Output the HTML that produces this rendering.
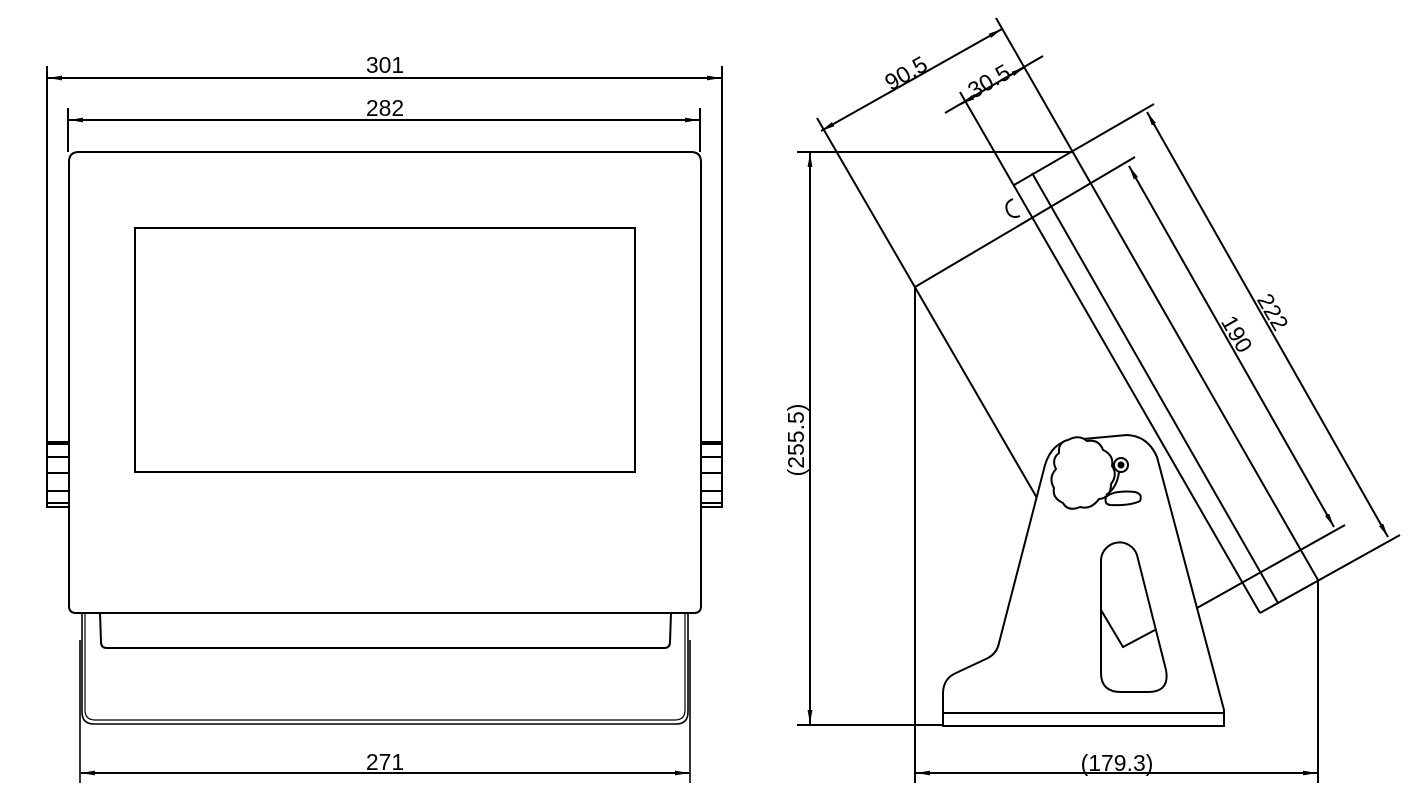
<!DOCTYPE html>
<html><head><meta charset="utf-8"><style>
html,body{margin:0;padding:0;background:#fff;}
svg{display:block;}
text{font-family:"Liberation Sans",Arial,sans-serif;font-size:23px;fill:#000;}
</style></head><body>
<svg width="1423" height="810" viewBox="0 0 1423 810" xmlns="http://www.w3.org/2000/svg">
<defs>
<marker id="a" viewBox="0 0 14 6" refX="14" refY="3" markerWidth="14" markerHeight="6" orient="auto-start-reverse" markerUnits="userSpaceOnUse"><path d="M0,0.6 L14,3 L0,5.4 z" fill="#000"/></marker>
</defs>
<g fill="none" stroke="#000" stroke-width="2">
<line x1="47" y1="66" x2="47" y2="508"/>
<line x1="722" y1="66" x2="722" y2="508"/>
<line x1="48" y1="78" x2="721" y2="78" marker-start="url(#a)" marker-end="url(#a)"/>
<line x1="68" y1="108" x2="68" y2="152"/>
<line x1="700" y1="108" x2="700" y2="152"/>
<line x1="69" y1="120" x2="699" y2="120" marker-start="url(#a)" marker-end="url(#a)"/>
<path d="M69,162 Q69,152 79,152 L691,152 Q701,152 701,162 L701,606 Q701,613 694,613 L76,613 Q69,613 69,606 Z"/>
<rect x="135" y="228" width="500" height="244"/>
<path d="M47,442 L69,442 M47,444 L69,444 M47,457 L69,457 M47,473 L69,473 M47,491 L69,491 M47,503 L69,503 M47,507 L69,507"/>
<path d="M701,442 L722,442 M701,444 L722,444 M701,457 L722,457 M701,473 L722,473 M701,491 L722,491 M701,503 L722,503 M701,507 L722,507"/>
<path d="M100,613 L101,642 Q101,648 107,648 L664,648 Q670,648 670,642 L671,613"/>
<path d="M82,613 L82,712 Q82,724 94,724 L676,724 Q688,724 688,712 L688,613" stroke-width="1.6"/>
<path d="M85,613 L85,710 Q85,720 95,720 L675,720 Q685,720 685,710 L685,613" stroke-width="1.2"/>
<line x1="80" y1="640" x2="80" y2="783" stroke-width="1.6"/>
<line x1="690" y1="640" x2="690" y2="783" stroke-width="1.6"/>
<line x1="81" y1="773" x2="689" y2="773" marker-start="url(#a)" marker-end="url(#a)"/>

<line x1="797" y1="152" x2="1072" y2="152"/>
<line x1="797" y1="725" x2="943" y2="725"/>
<line x1="810" y1="153" x2="810" y2="724" marker-start="url(#a)" marker-end="url(#a)"/>
<line x1="915" y1="287" x2="915" y2="783"/>
<line x1="1318" y1="580" x2="1318" y2="783"/>
<line x1="916" y1="773" x2="1317" y2="773" marker-start="url(#a)" marker-end="url(#a)"/>
<line x1="817" y1="118" x2="1037" y2="498"/>
<line x1="960" y1="92" x2="1260" y2="613"/>
<line x1="1032" y1="173" x2="1278" y2="603"/>
<line x1="996" y1="18" x2="1318" y2="580"/>
<line x1="915" y1="287" x2="1135" y2="157"/>
<line x1="1014" y1="185" x2="1154" y2="104"/>
<line x1="1260" y1="613" x2="1400" y2="535"/>
<line x1="1197" y1="608" x2="1345" y2="525"/>
<line x1="1129" y1="166" x2="1334" y2="527" marker-start="url(#a)" marker-end="url(#a)"/>
<line x1="1147" y1="112" x2="1388" y2="537" marker-start="url(#a)" marker-end="url(#a)"/>
<line x1="821" y1="131" x2="1002" y2="29" marker-start="url(#a)" marker-end="url(#a)"/>
<line x1="945" y1="113" x2="1043" y2="56"/>
<line x1="977" y1="95" x2="961" y2="104" marker-end="url(#a)"/>
<line x1="1009" y1="76" x2="1025" y2="67" marker-end="url(#a)"/>
<path d="M1013,199 Q1003,203 1008,213 Q1012,219 1020,216"/>
<path d="M943,726 L943,692 Q944,678 956,673 L988,658 Q997,653 999,643 L1045,465 Q1052,442 1072,440 L1127,435 Q1148,436 1157,457 L1224,710 L1224,726 Z" fill="#fff"/>
<line x1="943" y1="713" x2="1224" y2="713"/>
<path d="M1068,440 Q1079,434 1087,441 Q1099,439 1103,450 Q1114,455 1112,466 Q1118,475 1111,484 Q1111,498 1099,499 Q1091,510 1080,507 Q1068,512 1063,503 Q1052,498 1054,488 Q1048,478 1056,469 Q1051,459 1059,453 Q1058,442 1068,440 Z" fill="#fff"/>
<circle cx="1121" cy="465" r="7"/>
<circle cx="1121" cy="465" r="2.5" fill="#000"/>
<path d="M1119,472 Q1117,488 1106,495"/>
<path d="M1106,497 Q1114,490 1135,492 Q1143,494 1140,501 Q1130,506 1110,505 Q1104,504 1106,497 Z"/>
<path d="M1101,560 A18.5 18.5 0 0 1 1137,555 L1166,670 Q1170,692 1148,692 L1121,692 Q1101,692 1101,673 Z"/>
<path d="M1101,610 L1123,647 L1155,630"/>
</g>
<text x="385" y="73" text-anchor="middle">301</text>
<text x="385" y="116" text-anchor="middle">282</text>
<text x="385" y="770" text-anchor="middle">271</text>
<text x="1117" y="771" text-anchor="middle">(179.3)</text>
<text transform="translate(804,440) rotate(-90)" text-anchor="middle">(255.5)</text>
<text transform="translate(910,80) rotate(-30)" text-anchor="middle">90.5</text>
<text transform="translate(993,88) rotate(-30)" text-anchor="middle">30.5</text>
<text transform="translate(1230,338) rotate(60)" text-anchor="middle">190</text>
<text transform="translate(1266,316) rotate(60)" text-anchor="middle">222</text>
</svg>
</body></html>
